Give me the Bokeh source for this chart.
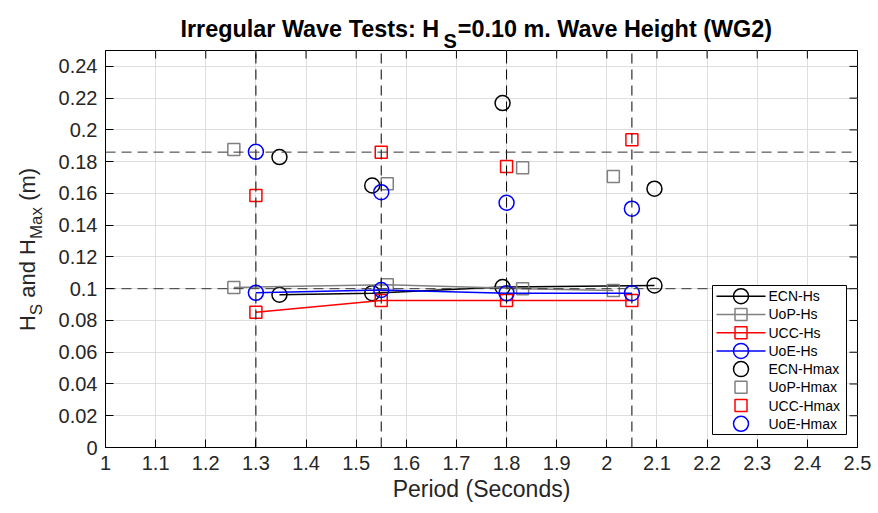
import math
from bokeh.plotting import figure
from bokeh.layouts import column, row
from bokeh.models import Label, FixedTicker
from bokeh.embed import file_html
from bokeh.resources import INLINE

# ---------------- data ----------------
ecn_T = [1.347, 1.532, 1.792, 2.095]
ecn_hs = [0.0962, 0.0972, 0.1010, 0.1020]
ecn_hmax = [0.1829, 0.1650, 0.2169, 0.1630]

uop_T = [1.256, 1.562, 1.832, 2.013]
uop_hs = [0.1008, 0.1025, 0.1000, 0.0989]
uop_hmax = [0.1877, 0.1661, 0.1762, 0.1707]

ucc_T = [1.30, 1.55, 1.80, 2.05]
ucc_hs = [0.0852, 0.0925, 0.0926, 0.0926]
ucc_hmax = [0.1587, 0.1860, 0.1770, 0.1938]

uoe_T = [1.30, 1.55, 1.80, 2.05]
uoe_hs = [0.0974, 0.0992, 0.0972, 0.0972]
uoe_hmax = [0.1862, 0.1608, 0.1541, 0.1504]

ref_periods = [1.30, 1.55, 1.80, 2.05]
ref_heights = [0.10, 0.186]

legend_labels = ["ECN-Hs", "UoP-Hs", "UCC-Hs", "UoE-Hs",
                 "ECN-Hmax", "UoP-Hmax", "UCC-Hmax", "UoE-Hmax"]

x_ticks = [1.0, 1.1, 1.2, 1.3, 1.4, 1.5, 1.6, 1.7, 1.8, 1.9, 2.0, 2.1, 2.2, 2.3, 2.4, 2.5]
x_tick_labels = ["1", "1.1", "1.2", "1.3", "1.4", "1.5", "1.6", "1.7", "1.8", "1.9",
                 "2", "2.1", "2.2", "2.3", "2.4", "2.5"]
y_ticks = [0.0, 0.02, 0.04, 0.06, 0.08, 0.10, 0.12, 0.14, 0.16, 0.18, 0.20, 0.22, 0.24]
y_tick_labels = ["0", "0.02", "0.04", "0.06", "0.08", "0.1", "0.12", "0.14", "0.16",
                 "0.18", "0.2", "0.22", "0.24"]

# ---------------- layout (canvas pixels) ----------------
W, H = 878, 513
TITLE_H = 50          # height of title strip
YLAB_W = 50           # width of y-label strip
FRAME_L, FRAME_R, FRAME_T, FRAME_B = 105, 857, 50, 447
X0, X1 = 1.0, 2.5
Y0, Y1 = 0.0, 0.25
FW, FH = FRAME_R - FRAME_L, FRAME_B - FRAME_T
FONT = "Liberation Sans"
TXT = "#262626"


def px2x(px):
    return X0 + (px - FRAME_L) / FW * (X1 - X0)


def py2y(py):
    return Y0 + (FRAME_B - py) / FH * (Y1 - Y0)


def dx(n):
    return n / FW * (X1 - X0)


def dy(n):
    return n / FH * (Y1 - Y0)


# Arial / Liberation Sans advance widths (1/1000 em)
REG = {' ': 278, '(': 333, ')': 333, 'a': 556, 'd': 556, 'n': 556, 'm': 833,
       'x': 500, 'H': 722, 'S': 667, 'M': 833}
BOLD = {' ': 278, 'I': 278, 'r': 389, 'e': 556, 'g': 611, 'u': 611, 'l': 278,
        'a': 556, 'W': 944, 'v': 556, 'T': 611, 's': 556, 't': 333, ':': 333,
        'H': 722, 'S': 667, '=': 584, '0': 556, '1': 556, '.': 278, 'm': 889,
        'i': 278, 'h': 611, '(': 333, ')': 333, 'G': 778, '2': 556}


def tw(s, size, table):
    return sum(table.get(c, 556) for c in s) / 1000.0 * size


def blank_fig(w, h, xr, yr, **kw):
    f = figure(width=w, height=h, output_backend="svg", toolbar_location=None,
               x_range=xr, y_range=yr, **kw)
    f.axis.visible = False
    f.grid.visible = False
    f.outline_line_color = None
    f.background_fill_color = "white"
    f.border_fill_color = "white"
    return f


# ---------------- title strip (canvas pixel coordinates, y downward) ----------------
tf = blank_fig(W, TITLE_H, (0, W), (TITLE_H, 0), min_border=0)
T_SIZE, T_SUB = 23.4, 20
t1 = "Irregular Wave Tests: H"
t_s = "S"
t2 = "=0.10 m. Wave Height (WG2)"
w1 = tw(t1, T_SIZE, BOLD)
ws = tw(t_s, T_SUB, BOLD)
start = 180
base_main, base_sub = 28, 40
x_s = start + w1 + 1.5
x_t2 = x_s + ws + 1
for txt, xpx, ypx, sz in [(t1, start, base_main, T_SIZE),
                          (t_s, x_s, base_sub, T_SUB),
                          (t2, x_t2, base_main, T_SIZE)]:
    tf.add_layout(Label(x=xpx, y=ypx, text=txt, text_font=FONT,
                        text_font_size=f"{sz}px", text_font_style="bold",
                        text_color="black", text_align="left",
                        text_baseline="alphabetic"))

# ---------------- y-label strip: frame aligned with the main frame ----------------
# x in canvas px (0..YLAB_W), y in canvas px (FRAME_T..FRAME_B, downward)
yf = blank_fig(YLAB_W, H - TITLE_H, (0, YLAB_W), (FRAME_B, FRAME_T),
               min_border_left=0, min_border_right=0, min_border_top=0,
               min_border_bottom=H - FRAME_B)
Y_SIZE, Y_SUB = 22, 17
SP = tw(" ", Y_SIZE, REG)
# (text, is_subscript, leading gap in px)
pieces = [("H", False, 0), ("S", True, 0), ("and H", False, SP),
          ("Max", True, 0), ("(m)", False, SP)]
widths = [tw(s, Y_SUB if sub else Y_SIZE, REG) for s, sub, gap in pieces]
total = sum(w + gap for w, (s, sub, gap) in zip(widths, pieces))
y_center = 249
cur = y_center + total / 2          # bottom end of the whole label (canvas px)
x_main, x_sub = 27, 36
for (s, sub, gap), w in zip(pieces, widths):
    cur -= gap
    yf.add_layout(Label(x=x_sub if sub else x_main, y=cur - w / 2, text=s,
                        angle=math.pi / 2, text_font=FONT,
                        text_font_size=f"{Y_SUB if sub else Y_SIZE}px",
                        text_color=TXT, text_align="center",
                        text_baseline="middle"))
    cur -= w

# ---------------- main plot ----------------
p = figure(width=W - YLAB_W, height=H - TITLE_H, output_backend="svg",
           toolbar_location=None, x_range=(X0, X1), y_range=(Y0, Y1),
           min_border_left=FRAME_L - YLAB_W, min_border_right=W - FRAME_R,
           min_border_top=0, min_border_bottom=H - FRAME_B)
p.background_fill_color = "white"
p.border_fill_color = "white"
p.outline_line_color = "black"
p.outline_line_width = 1

GRID = "#dedede"
p.xgrid.ticker = FixedTicker(ticks=x_ticks)
p.ygrid.ticker = FixedTicker(ticks=y_ticks)
p.xgrid.grid_line_color = GRID
p.ygrid.grid_line_color = GRID

xa = p.xaxis[0]
ya = p.yaxis[0]
xa.ticker = FixedTicker(ticks=x_ticks)
ya.ticker = FixedTicker(ticks=y_ticks)
xa.major_label_overrides = {t: l for t, l in zip(x_ticks, x_tick_labels)}
ya.major_label_overrides = {t: l for t, l in zip(y_ticks, y_tick_labels)}
for ax in (xa, ya):
    ax.major_tick_in = 8
    ax.major_tick_out = 0
    ax.minor_tick_line_color = None
    ax.major_label_text_font = FONT
    ax.major_label_text_font_size = "20px"
    ax.major_label_text_color = TXT
    ax.axis_line_color = "black"
    ax.major_tick_line_color = "black"
xa.major_label_standoff = 8
ya.major_label_standoff = 8
xa.axis_label = "Period (Seconds)"
xa.axis_label_text_font = FONT
xa.axis_label_text_font_size = "23px"
xa.axis_label_text_font_style = "normal"
xa.axis_label_text_color = TXT
xa.axis_label_standoff = 3

# mirrored inward ticks on the right and top edges
p.segment(x0=[X1] * len(y_ticks), y0=y_ticks, x1=[X1 - dx(8)] * len(y_ticks), y1=y_ticks,
          line_color="black", line_width=1)
p.segment(x0=x_ticks, y0=[Y1] * len(x_ticks), x1=x_ticks, y1=[Y1 - dy(8)] * len(x_ticks),
          line_color="black", line_width=1)

LW = 1.5
series = [
    (ecn_T, ecn_hs, ecn_hmax, "black", "circle", 15),
    (uop_T, uop_hs, uop_hmax, "#808080", "square", 12),
    (ucc_T, ucc_hs, ucc_hmax, "#ff0000", "square", 12),
    (uoe_T, uoe_hs, uoe_hmax, "#0000ff", "circle", 15),
]

for T, hs, hmax, col, mk, sz in series:
    p.line(T, hs, line_color=col, line_width=LW)
    p.scatter(T, hs, marker=mk, size=sz, line_color=col, fill_color=None, line_width=LW)
for T, hs, hmax, col, mk, sz in series:
    p.scatter(T, hmax, marker=mk, size=sz, line_color=col, fill_color=None, line_width=LW)

# dashed reference lines
p.segment(x0=ref_periods, y0=[Y0] * len(ref_periods), x1=ref_periods, y1=[Y1] * len(ref_periods),
          line_color="black", line_dash="10 6", line_width=1)
p.segment(x0=[X0] * len(ref_heights), y0=ref_heights, x1=[X1] * len(ref_heights), y1=ref_heights,
          line_color="#333333", line_dash="10 6", line_width=1)

# ---------------- legend (drawn on top of the data) ----------------
LG_L, LG_R, LG_T, LG_B = 712, 846, 285, 434
p.quad(left=[px2x(LG_L)], right=[px2x(LG_R)], top=[py2y(LG_T)], bottom=[py2y(LG_B)],
       fill_color="white", line_color="black", line_width=1)
row_c0, row_step = 295.7, 18.23
for i, lab in enumerate(legend_labels):
    T, hs, hmax, col, mk, sz = series[i % 4]
    yc = py2y(row_c0 + i * row_step)
    if i < 4:
        p.line([px2x(716), px2x(765)], [yc, yc], line_color=col, line_width=LW)
    p.scatter([px2x(740.5)], [yc], marker=mk, size=sz, line_color=col,
              fill_color=None, line_width=LW)
    p.add_layout(Label(x=px2x(768), y=yc, text=lab, text_font=FONT,
                       text_font_size="14px", text_color="black",
                       text_align="left", text_baseline="middle"))

layout = column(tf, row(yf, p, spacing=0), spacing=0)
open("out.html", "w").write(file_html(layout, INLINE))
